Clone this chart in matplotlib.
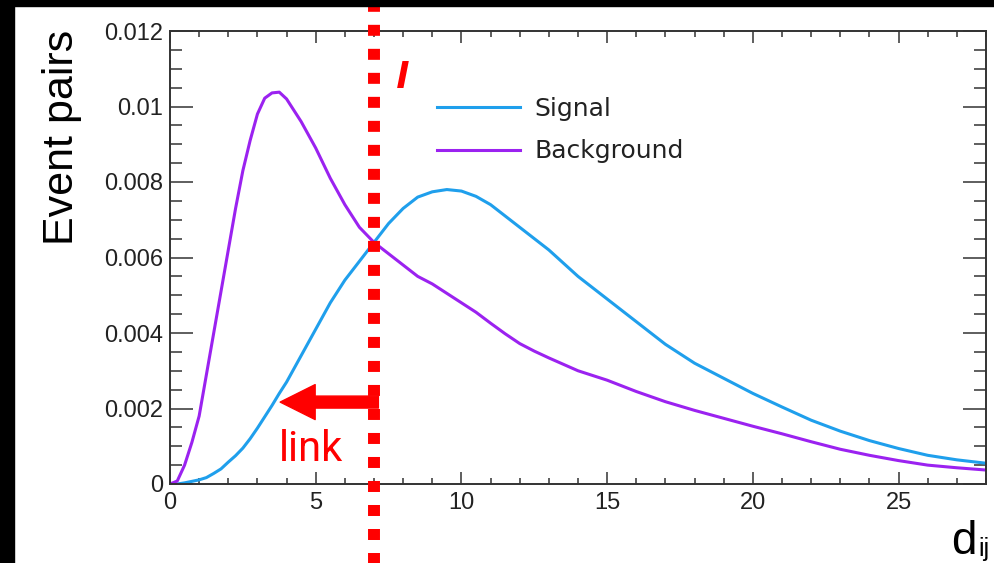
import numpy as np
import matplotlib
matplotlib.use('Agg')
import matplotlib.pyplot as plt
from matplotlib.patches import Rectangle

# d_ij grid and histogram contents
d_ij = [0, 0.25, 0.5, 0.75, 1.0, 1.25, 1.5, 1.75, 2.0, 2.25, 2.5, 2.75, 3.0,
        3.25, 3.5, 3.75, 4.0, 4.5, 5.0, 5.5, 6.0, 6.5, 7.0, 7.5, 8.0, 8.5,
        9.0, 9.5, 10.0, 10.5, 11.0, 11.5, 12.0, 12.5, 13.0, 14.0, 15.0, 16.0,
        17.0, 18.0, 19.0, 20.0, 21.0, 22.0, 23.0, 24.0, 25.0, 26.0, 27.0, 28.0]

background = [0, 0.00008, 0.0005, 0.0011, 0.0018, 0.0029, 0.0040, 0.0051,
              0.0062, 0.0073, 0.0083, 0.0091, 0.0098, 0.01022, 0.01036,
              0.01038, 0.0102, 0.0096, 0.0089, 0.0081, 0.0074, 0.0068, 0.0064,
              0.0061, 0.0058, 0.0055, 0.0053, 0.00505, 0.0048, 0.00455,
              0.00426, 0.00398, 0.00372, 0.00352, 0.00334, 0.0030, 0.00275,
              0.00245, 0.00218, 0.00195, 0.00174, 0.00153, 0.00133, 0.00112,
              0.00092, 0.00076, 0.00062, 0.0005, 0.00043, 0.00037]

signal = [0, 0.0, 0.00003, 0.00007, 0.00011, 0.00017, 0.00028, 0.0004,
          0.00058, 0.00075, 0.00095, 0.0012, 0.00148, 0.00178, 0.00208,
          0.0024, 0.0027, 0.0034, 0.0041, 0.0048, 0.0054, 0.0059, 0.0064,
          0.0069, 0.0073, 0.0076, 0.00774, 0.0078, 0.00776, 0.00762, 0.0074,
          0.0071, 0.0068, 0.0065, 0.0062, 0.0055, 0.0049, 0.0043, 0.0037,
          0.0032, 0.0028, 0.0024, 0.00204, 0.00169, 0.0014, 0.00115, 0.00094,
          0.00076, 0.00064, 0.00055]

x_ticks = [0, 5, 10, 15, 20, 25]
y_ticks = [0, 0.002, 0.004, 0.006, 0.008, 0.010, 0.012]
y_tick_labels = ['0', '0.002', '0.004', '0.006', '0.008', '0.01', '0.012']
cut = 7.0

blue = '#1f9fec'
purple = '#9b22f0'
red = '#ff0000'
frame = '#333333'

fig = plt.figure(figsize=(9.94, 5.63), dpi=100)
fig.patches.append(Rectangle((0, 1 - 6/563), 1, 6/563, transform=fig.transFigure,
                             color='black', zorder=0))
fig.patches.append(Rectangle((0, 0), 14/994, 1, transform=fig.transFigure,
                             color='black', zorder=0))

ax = fig.add_axes([170/994, 79/563, 816/994, 453/563])
ax.plot(d_ij, signal, color=blue, lw=2.2, label='Signal')
ax.plot(d_ij, background, color=purple, lw=2.2, label='Background')

ax.set_xlim(0, 28)
ax.set_ylim(0, 0.012)
ax.set_xticks(x_ticks)
ax.set_xticklabels([str(t) for t in x_ticks])
ax.set_xticks(np.arange(0, 29, 1), minor=True)
ax.set_yticks(y_ticks)
ax.set_yticklabels(y_tick_labels)
ax.set_yticks(np.arange(0, 0.01201, 0.0005), minor=True)

for s in ax.spines.values():
    s.set_color(frame)
    s.set_linewidth(1.4)
ax.tick_params(which='both', direction='in', top=True, right=True,
               color=frame, width=1.1, labelcolor='#222222')
ax.tick_params(axis='x', which='major', length=8.6, pad=6)
ax.tick_params(axis='x', which='minor', length=4.3)
ax.tick_params(axis='y', which='major', length=16.5, pad=5)
ax.tick_params(axis='y', which='minor', length=8.6)
for lab in ax.get_xticklabels() + ax.get_yticklabels():
    lab.set_fontfamily('Liberation Sans')
    lab.set_fontsize(17)

leg = ax.legend(loc='upper left', bbox_to_anchor=(257/816, 1 - 56/453),
                frameon=False, handlelength=3.3, handletextpad=0.6,
                labelspacing=0.73, borderaxespad=0,
                prop={'family': 'DejaVu Sans', 'size': 18})
for t in leg.get_texts():
    t.set_color('#222222')

# red cut line and annotations
ax.axvline(cut, ymin=-0.18, ymax=1.06, clip_on=False, color=red, lw=8.6,
           dashes=(0.92, 1.09), dash_capstyle='butt', zorder=5)
ax.annotate('', xy=(3.78, 0.00217), xytext=(7.15, 0.00217),
            arrowprops=dict(arrowstyle='simple,head_length=1.75,head_width=1.75,tail_width=0.6',
                            mutation_scale=14.4, color=red, shrinkA=0, shrinkB=0),
            zorder=6)
ax.text(3.75, 0.0006, 'link', color=red, fontsize=30, family='Roboto',
        ha='left', va='baseline')
ax.text(7.75, 0.0105, 'l', color=red, fontsize=26, family='DejaVu Sans',
        style='italic', weight='bold', ha='left', va='baseline')

fig.text(62/994, 1 - 137/563, 'Event pairs', rotation=90, ha='center',
         va='center', fontsize=31, family='Liberation Sans', color='black')
fig.text(951/994, 9/563, 'd', fontsize=33, family='Liberation Sans',
         color='black', ha='left', va='baseline')
fig.text(978/994, 7/563, 'ij', fontsize=18, family='Liberation Sans',
         color='black', ha='left', va='baseline')

fig.savefig('out.png', dpi=100, facecolor='white')
